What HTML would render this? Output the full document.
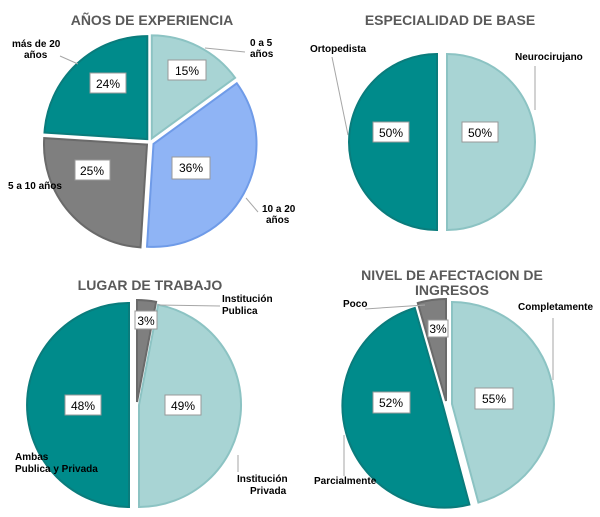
<!DOCTYPE html>
<html><head><meta charset="utf-8"><style>
html,body{margin:0;padding:0;background:#fff;}
svg{display:block;font-family:"Liberation Sans",Arial,sans-serif;}
.t{font-size:14px;font-weight:bold;fill:#595959;text-anchor:middle;}
.l{font-size:10px;font-weight:bold;fill:#000;}
.p{font-size:12px;fill:#000;text-anchor:middle;}
.b{fill:#fff;stroke:#999;stroke-width:1;}
.ln{stroke:#a6a6a6;stroke-width:1;fill:none;}
.lt{fill:#a8d4d4;stroke:#8cc3c3;stroke-width:2;}
.tl{fill:#008b8b;stroke:#0a7c7c;stroke-width:2;}
.gr{fill:#7f7f7f;stroke:#6a6a6a;stroke-width:2;}
.bl{fill:#8fb4f5;stroke:#6f9be8;stroke-width:2;}
</style></head><body>
<svg width="600" height="517" viewBox="0 0 600 517">
<!-- Chart 1 -->
<text class="t" x="152" y="25">AÑOS DE EXPERIENCIA</text>
<path class="lt" d="M151.8,138.4 L151.8,35.4 A103,103 0 0 1 235.1,77.8 Z"/>
<path class="bl" d="M153.5,143.9 L236.8,83.3 A103,103 0 0 1 147,246.7 Z"/>
<path class="gr" d="M147,144.6 L140.5,247.4 A103,103 0 0 1 44.2,138.1 Z"/>
<path class="tl" d="M147.3,139.1 L44.5,132.6 A103,103 0 0 1 147.3,36.1 Z"/>
<rect class="b" x="168" y="60" width="38" height="20"/><text class="p" x="187" y="75">15%</text>
<rect class="b" x="172" y="157" width="38" height="22"/><text class="p" x="191" y="172">36%</text>
<rect class="b" x="75" y="160" width="35" height="20"/><text class="p" x="92" y="175">25%</text>
<rect class="b" x="90" y="73" width="36" height="20"/><text class="p" x="108" y="88">24%</text>
<text class="l" x="12" y="47">más de 20</text><text class="l" x="24" y="58">años</text>
<path class="ln" d="M60,56 L78,64"/>
<text class="l" x="250" y="46">0 a 5</text><text class="l" x="250" y="57">años</text>
<path class="ln" d="M205,48 L245,52"/>
<text class="l" x="8" y="189">5 a 10 años</text>
<text class="l" x="262" y="212">10 a 20</text><text class="l" x="266" y="223">años</text>
<path class="ln" d="M246,198 L258,212"/>

<!-- Chart 2 -->
<text class="t" x="450" y="25">ESPECIALIDAD DE BASE</text>
<path class="tl" d="M437,142 L437,230 A88,88 0 0 1 437,54 Z"/>
<path class="lt" d="M447,142 L447,54 A88,88 0 0 1 447,230 Z"/>
<rect class="b" x="373" y="122" width="36" height="20"/><text class="p" x="391" y="137">50%</text>
<rect class="b" x="462" y="122" width="36" height="20"/><text class="p" x="480" y="137">50%</text>
<text class="l" x="310" y="52">Ortopedista</text>
<path class="ln" d="M332,57 L348,135"/>
<text class="l" x="515" y="60">Neurocirujano</text>
<path class="ln" d="M535,66 L535,110"/>

<!-- Chart 3 -->
<text class="t" x="150" y="290">LUGAR DE TRABAJO</text>
<path class="gr" d="M137,402 L137,300 A102,102 0 0 1 156.1,301.8 Z"/>
<path class="lt" d="M139,405 L158.1,304.8 A102,102 0 0 1 139,507 Z"/>
<path class="tl" d="M129,405 L129,507 A102,102 0 0 1 129,303 Z"/>
<rect class="b" x="135" y="311" width="22" height="18"/><text class="p" x="146" y="325">3%</text>
<rect class="b" x="165" y="395" width="36" height="20"/><text class="p" x="183" y="410">49%</text>
<rect class="b" x="65" y="395" width="36" height="20"/><text class="p" x="83" y="410">48%</text>
<text class="l" x="222" y="302">Institución</text><text class="l" x="222" y="314">Publica</text>
<path class="ln" d="M158,305 L220,306"/>
<text class="l" x="15" y="460">Ambas</text><text class="l" x="15" y="472">Publica y Privada</text>
<text class="l" x="237" y="482">Institución</text><text class="l" x="250" y="494">Privada</text>
<path class="ln" d="M238,455 L238,472"/>

<!-- Chart 4 -->
<text class="t" x="452" y="280">NIVEL DE AFECTACION DE</text>
<text class="t" x="452" y="295">INGRESOS</text>
<path class="lt" d="M452,404 L452,302 A102,102 0 0 1 478.4,502.5 Z"/>
<path class="tl" d="M443,406 L469.4,504.5 A102,102 0 0 1 414.8,308 Z"/>
<path class="gr" d="M446,401 L417.8,303 A102,102 0 0 1 446,299 Z"/>
<rect class="b" x="428" y="320" width="20" height="17"/><text class="p" x="438" y="333">3%</text>
<rect class="b" x="475" y="388" width="38" height="21"/><text class="p" x="494" y="403">55%</text>
<rect class="b" x="373" y="392" width="37" height="21"/><text class="p" x="391" y="407">52%</text>
<text class="l" x="343" y="307">Poco</text>
<path class="ln" d="M365,309 L425,305"/>
<text class="l" x="518" y="310">Completamente</text>
<path class="ln" d="M553,318 L553,380"/>
<text class="l" x="314" y="484">Parcialmente</text>
<path class="ln" d="M344,435 L344,476"/>
</svg>
</body></html>
